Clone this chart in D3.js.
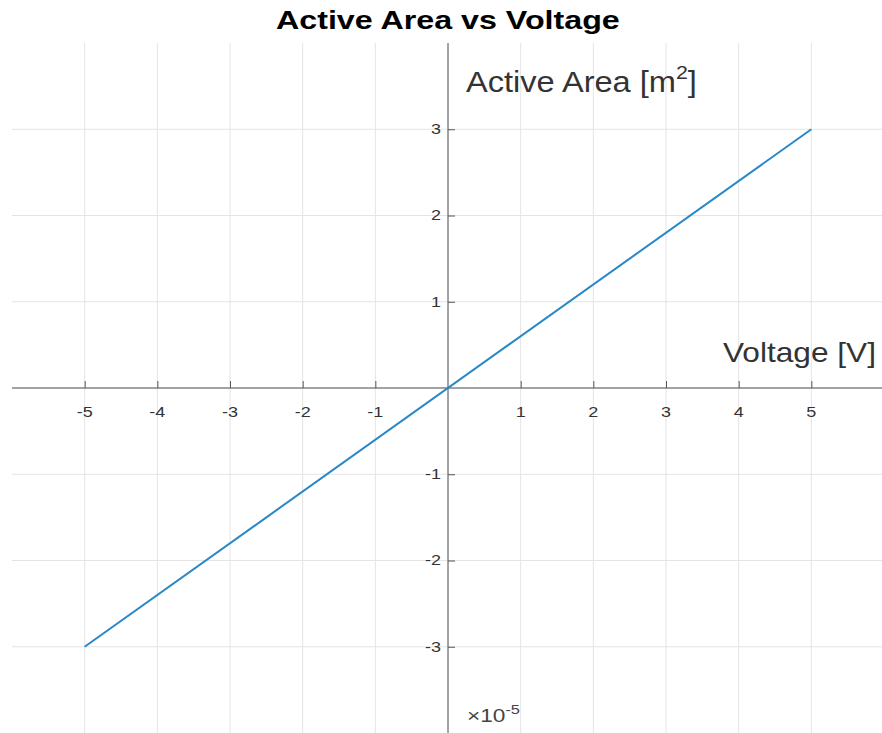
<!DOCTYPE html>
<html>
<head>
<meta charset="utf-8">
<script src="https://cdn.jsdelivr.net/npm/d3@7"></script>
<style>
  html, body { margin: 0; padding: 0; background: #fff; }
  svg { display: block; font-family: "Liberation Sans", Arial, Helvetica, sans-serif; }
</style>
</head>
<body>
<svg id="chart" width="882" height="733"></svg>
<script>
// Voltage samples (V) and active area (×1e-5 m²)
const voltage = [-5, 5];
const activeArea = [-3, 3];
const xTicks = [-5, -4, -3, -2, -1, 1, 2, 3, 4, 5];
const yTicks = [-3, -2, -1, 1, 2, 3];
const xGrid = [-5, -4, -3, -2, -1, 0, 1, 2, 3, 4, 5];
const yGrid = [-3, -2, -1, 0, 1, 2, 3];

const svg = d3.select("#chart");
const x = d3.scaleLinear().domain([-6, 6]).range([12, 884]);
const y = d3.scaleLinear().domain([-4, 4]).range([733, 43]);

// widen a text element horizontally so it spans [left, left + width]
function fitWidth(sel, left, width) {
  const node = sel.node();
  const b = node.getBBox();
  const sx = width / b.width;
  sel.attr("transform", `translate(${left},0) scale(${sx},1) translate(${-b.x},0)`);
}
// widen a text element horizontally about an anchor point
function stretchAbout(sel, ax, sx) {
  sel.attr("transform", `translate(${ax},0) scale(${sx},1) translate(${-ax},0)`);
}

// grid
svg.append("g").selectAll("line").data(xGrid).join("line")
  .attr("x1", d => x(d)).attr("x2", d => x(d))
  .attr("y1", y(4)).attr("y2", y(-4))
  .attr("stroke", "#e4e4e4").attr("stroke-width", 1);
svg.append("g").selectAll("line").data(yGrid).join("line")
  .attr("x1", x(-6)).attr("x2", x(6))
  .attr("y1", d => y(d)).attr("y2", d => y(d))
  .attr("stroke", "#e4e4e4").attr("stroke-width", 1);

// axes through the origin
const xAxis = d3.axisTop(x).tickValues(xTicks).tickSize(7).tickFormat("");
const gx = svg.append("g").attr("transform", `translate(0,${y(0)})`).call(xAxis);
gx.select(".domain").attr("stroke", "#555").attr("d", `M${x(-6)},0H${x(6)}`);
gx.selectAll(".tick line").attr("stroke", "#555");

const yAxis = d3.axisRight(y).tickValues(yTicks).tickSize(7).tickFormat("");
const gy = svg.append("g").attr("transform", `translate(${x(0)},0)`).call(yAxis);
gy.select(".domain").attr("stroke", "#555").attr("d", `M0,${y(4)}V${y(-4)}`);
gy.selectAll(".tick line").attr("stroke", "#555");

// tick labels
svg.append("g").selectAll("text").data(xTicks).join("text")
  .attr("x", d => x(d)).attr("y", y(0) + 29)
  .attr("text-anchor", "middle")
  .attr("font-size", 15).attr("fill", "#333")
  .text(d => d)
  .each(function (d) { stretchAbout(d3.select(this), x(d), 1.2); });
svg.append("g").selectAll("text").data(yTicks).join("text")
  .attr("x", x(0) - 7).attr("y", d => y(d) + 5)
  .attr("text-anchor", "end")
  .attr("font-size", 15).attr("fill", "#333")
  .text(d => d)
  .each(function () { stretchAbout(d3.select(this), x(0) - 7, 1.2); });

// data line
const line = d3.line().x((d, i) => x(voltage[i])).y(d => y(d));
svg.append("path").datum(activeArea)
  .attr("d", line)
  .attr("fill", "none")
  .attr("stroke", "#2787c8")
  .attr("stroke-width", 2);

// title
const title = svg.append("text").attr("x", 0).attr("y", 29)
  .attr("font-weight", "bold")
  .attr("font-size", 26).attr("fill", "#000")
  .text("Active Area vs Voltage");
fitWidth(title, 276, 344);

// axis labels
const yl = svg.append("text").attr("x", 0).attr("y", 92)
  .attr("font-size", 29).attr("fill", "#333");
yl.append("tspan").text("Active Area [m");
yl.append("tspan").attr("font-size", 19).attr("dy", -13).text("2");
yl.append("tspan").attr("dy", 13).text("]");
fitWidth(yl, 466, 231);

const xl = svg.append("text").attr("x", 0).attr("y", 362)
  .attr("font-size", 28).attr("fill", "#333")
  .text("Voltage [V]");
fitWidth(xl, 723, 153);

// exponent
const ex = svg.append("text").attr("x", 0).attr("y", 722)
  .attr("font-size", 18).attr("fill", "#444");
ex.append("tspan").text("×10");
ex.append("tspan").attr("font-size", 13).attr("dy", -8).text("-5");
fitWidth(ex, 467, 53);
</script>
</body>
</html>
